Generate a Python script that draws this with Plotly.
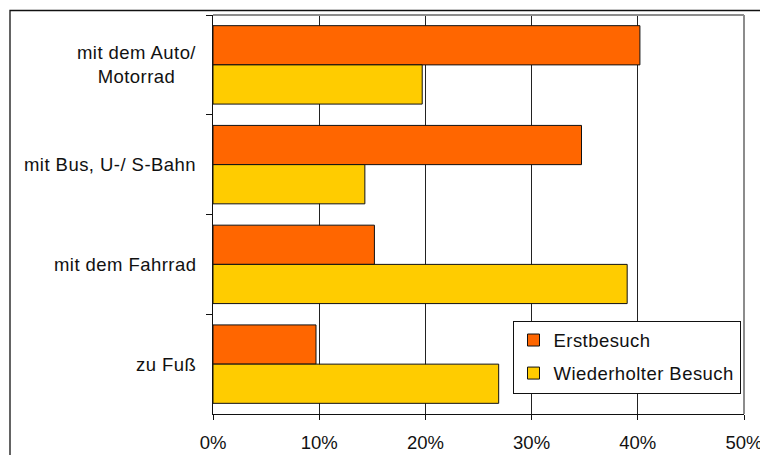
import plotly.graph_objects as go

# Verkehrsmittel (top to bottom) and shares in percent
categories = ["mit dem Auto/<br>Motorrad", "mit Bus, U-/ S-Bahn", "mit dem Fahrrad", "zu Fuß"]
erstbesuch = [40.2, 34.7, 15.2, 9.7]
wiederholt = [19.7, 14.3, 39.0, 26.9]
series_names = ["Erstbesuch", "Wiederholter Besuch"]
x_ticks = [0, 10, 20, 30, 40, 50]
x_ticklabels = ["0%", "10%", "20%", "30%", "40%", "50%"]

ORANGE = "#FF6600"
YELLOW = "#FFCC00"
INK = "#111111"
FONT = "Liberation Sans, Arial, sans-serif"
FSIZE = 18.5


def spaced(text, ls=0.45):
    """Wrap each line of a label in a span with slight letter spacing."""
    return "<br>".join(
        f'<span style="letter-spacing:{ls}px">{line}</span>' for line in text.split("<br>")
    )


fig = go.Figure()
for name, vals, col, grp in [(series_names[0], erstbesuch, ORANGE, "a"),
                             (series_names[1], wiederholt, YELLOW, "b")]:
    fig.add_trace(go.Bar(
        name=spaced(name), y=categories, x=vals, orientation="h",
        legendgroup=grp,
        marker=dict(color=col, line=dict(color=INK, width=1)),
        hoverinfo="skip",
    ))

# category labels: centred lines, block right-aligned left of the axis
for cat in categories:
    fig.add_annotation(x=0, xref="paper", y=cat, yref="y", text=spaced(cat),
                       showarrow=False, xanchor="right", yanchor="middle",
                       align="center", xshift=-15,
                       font=dict(family=FONT, size=FSIZE, color=INK))

W, H = 760, 455
L, R, T, B = 213, 16, 15, 41
pw, ph = W - L - R, H - T - B


def px_x(p):
    return (p - L) / pw


def px_y(p):
    return (H - B - p) / ph


shapes = [
    # outer chart frame (runs off the canvas on the right and bottom)
    dict(type="rect", xref="paper", yref="paper",
         x0=px_x(10), x1=px_x(800), y0=px_y(500), y1=px_y(10.5),
         line=dict(color=INK, width=1.3), layer="below"),
    # grey plot frame on top and right
    dict(type="line", xref="paper", yref="paper", x0=0, x1=1, y0=1, y1=1,
         line=dict(color="#8c8c8c", width=2), layer="above"),
    dict(type="line", xref="paper", yref="paper", x0=1, x1=1, y0=0, y1=1,
         line=dict(color="#8c8c8c", width=2), layer="above"),
]

fig.update_layout(
    width=W, height=H,
    margin=dict(l=L, r=R, t=T, b=B, pad=0, autoexpand=False),
    paper_bgcolor="white", plot_bgcolor="white",
    barmode="group", bargap=0.214, bargroupgap=0,
    font=dict(family=FONT, size=FSIZE, color=INK),
    showlegend=True,
    legend=dict(x=px_x(512.5), y=px_y(320.5), xanchor="left", yanchor="top",
                bgcolor="white", bordercolor=INK, borderwidth=1,
                font=dict(family=FONT, size=FSIZE, color=INK),
                traceorder="grouped", tracegroupgap=6,
                itemclick=False, itemdoubleclick=False),
    shapes=shapes,
    xaxis=dict(range=[0, 50], tickvals=x_ticks, ticktext=x_ticklabels,
               showgrid=True, gridcolor="#222222", gridwidth=1,
               showline=True, linecolor=INK, linewidth=1,
               ticks="outside", ticklen=5, tickcolor=INK,
               zeroline=False, fixedrange=True, ticklabelstandoff=7,
               ticklabeloverflow="allow", automargin=False,
               tickfont=dict(family=FONT, size=FSIZE, color=INK)),
    yaxis=dict(type="category", categoryorder="array", categoryarray=categories,
               range=[3.5, -0.5], showticklabels=False, automargin=False,
               ticks="outside", ticklen=6, tickcolor=INK,
               tickson="boundaries",
               showline=True, linecolor=INK, linewidth=1,
               showgrid=False, zeroline=False, fixedrange=True),
)

fig.write_html("out.html", config={"displayModeBar": False, "staticPlot": True})
